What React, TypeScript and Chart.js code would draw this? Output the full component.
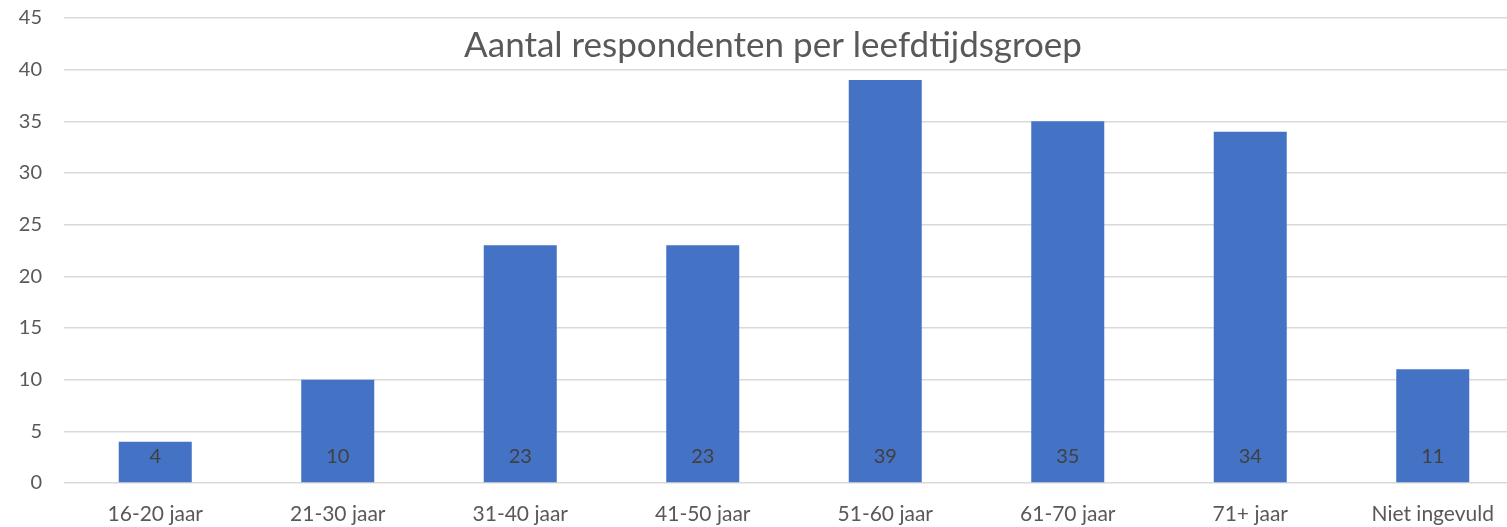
import { useEffect, useRef } from "react";
import { Chart, registerables } from "chart.js";

Chart.register(...registerables);

const categories = ["16-20 jaar", "21-30 jaar", "31-40 jaar", "41-50 jaar", "51-60 jaar", "61-70 jaar", "71+ jaar", "Niet ingevuld"];
const values = [4, 10, 23, 23, 39, 35, 34, 11];
const chartTitle = "Aantal respondenten per leefdtijdsgroep";
const yMax = 45;
const yStep = 5;

const FONT = "Lato, 'Open Sans', sans-serif";

const titlePlugin = {
  id: "overlayTitle",
  afterDraw(chart: any) {
    const ctx = chart.ctx;
    ctx.save();
    ctx.font = `35px ${FONT}`;
    ctx.fillStyle = "#595959";
    ctx.textAlign = "center";
    ctx.textBaseline = "middle";
    ctx.fillText(chartTitle, 773, 46);
    ctx.restore();
  },
};

const baseLabelPlugin = {
  id: "baseLabels",
  afterDatasetsDraw(chart: any) {
    const ctx = chart.ctx;
    const meta = chart.getDatasetMeta(0);
    ctx.save();
    ctx.font = `20px ${FONT}`;
    ctx.fillStyle = "#404040";
    ctx.textAlign = "center";
    ctx.textBaseline = "middle";
    meta.data.forEach((bar: any, i: number) => {
      ctx.fillText(String(values[i]), bar.x, bar.base - 26);
    });
    ctx.restore();
  },
};

export default function App() {
  const ref = useRef<HTMLCanvasElement>(null);
  useEffect(() => {
    document.body.style.margin = "0";
    document.body.style.overflow = "hidden";
    const chart = new Chart(ref.current!, {
      type: "bar",
      data: {
        labels: categories,
        datasets: [
          {
            data: values,
            backgroundColor: "#4472C4",
            categoryPercentage: 1,
            barPercentage: 0.4,
          },
        ],
      },
      options: {
        animation: false,
        responsive: false,
        maintainAspectRatio: false,
        layout: { padding: { top: 18, right: 0, left: 0, bottom: 0 } },
        plugins: { legend: { display: false }, tooltip: { enabled: false }, title: { display: false } },
        scales: {
          x: {
            grid: { display: false, drawTicks: false },
            border: { display: false },
            ticks: { color: "#595959", font: { family: FONT, size: 21 }, padding: 19, maxRotation: 0 },
            afterFit(scale: any) {
              scale.height = 44;
              scale.paddingLeft = 0;
              scale.paddingRight = 0;
            },
          },
          y: {
            min: 0,
            max: yMax,
            grid: { color: "#D9D9D9", lineWidth: 1.5, drawTicks: false },
            border: { display: false },
            ticks: { stepSize: yStep, color: "#595959", font: { family: FONT, size: 20 }, padding: 22 },
            afterFit(scale: any) {
              scale.width = 64;
              scale.paddingTop = 0;
              scale.paddingBottom = 0;
            },
          },
        },
      },
      plugins: [titlePlugin, baseLabelPlugin],
    });
    return () => chart.destroy();
  }, []);
  return (
    <div style={{ width: 1524, height: 527, overflow: "hidden" }}>
      <canvas ref={ref} width={1524} height={527} style={{ display: "block" }} />
    </div>
  );
}
